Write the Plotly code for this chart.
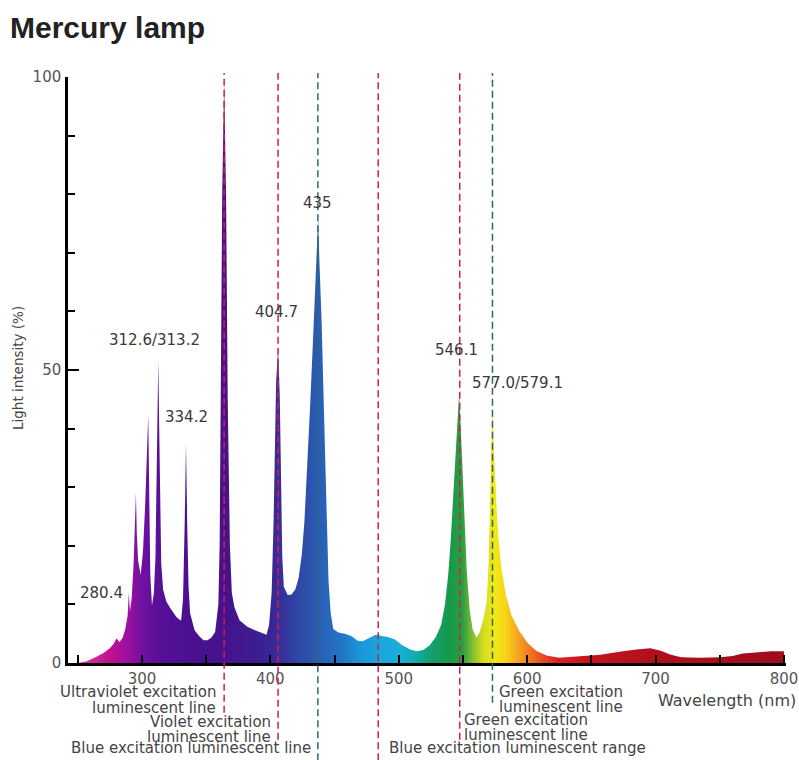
import plotly.graph_objects as go

# ---------------- data ----------------
wavelength_nm = [
    250, 257, 263, 270, 275, 278, 280.2, 282.5, 285, 287, 288.8, 289.8, 290.6, 292,
    293.5, 294.6, 295.3, 296, 297, 299, 300.8, 302.5, 304, 304.9, 305.6, 306.5, 307.8,
    309.3, 310.5, 311.6, 312.2, 312.7, 313.3, 314, 315, 316.5, 319, 322, 327, 330.5,
    332, 333.3, 334.3, 335.2, 336.3, 337.5, 341, 345, 348, 351, 354, 357, 359.5, 360.5,
    361.2, 362.5, 364, 365.5, 366.8, 368.5, 370, 372, 376, 382, 388,
    393, 397, 399, 401, 402.5, 403.5, 404.5, 406, 407.3, 408.3, 409.3, 410.5, 413.5, 416.5,
    419.5, 422, 424.5, 426.5, 429, 431, 433, 435, 436.3, 437.2, 438.3, 440, 441.5,
    442.7, 444, 445.3, 447, 449, 453, 458, 463, 468, 472, 477, 482, 487, 492, 497,
    503, 509, 514, 519, 524, 529, 533, 536, 538.5, 540.5, 542.5, 544, 545.6, 547,
    548.3, 549.8, 551.2, 553, 555.3, 557.5, 560.5, 563, 566, 568.5, 570, 571.3, 572.3,
    573, 573.8, 575, 576.3, 577.8, 580, 583.5, 588, 594, 600, 607, 615, 625, 640, 657,
    672, 685, 696, 704, 712, 720, 735, 750, 760, 768, 778, 790, 800,
]
intensity_pct = [
    0, 0.3, 0.9, 1.7, 2.5, 3.3, 4.2, 3.6, 4.3, 5.8, 8, 12, 8.8, 11,
    17, 24, 29, 22, 17.5, 15, 19, 27, 36, 42.3, 30, 15, 9.8,
    12, 18, 32, 43, 51.5, 42, 30, 17, 12.5, 10.5, 9.4, 7.8, 7.2,
    11, 24, 37.4, 24, 13, 8.5, 5.6, 4.5, 3.9, 3.9, 4.3, 5.3, 10, 20,
    45, 80, 99, 80, 45, 20, 12, 9.5, 7.3, 6.2, 5.6,
    5.1, 4.8, 6.5, 12, 24, 38, 48, 53.6, 46, 32, 18, 13, 11.6, 11.7,
    12.6, 14.5, 18.5, 24, 34, 44, 54, 65, 72, 75.8, 68, 57.8, 45,
    35, 23, 14, 8.5, 5.8, 5.2, 5.0, 4.6, 3.8, 3.7, 4.2, 4.8, 4.6, 4.4, 4.0,
    3.0, 2.3, 2.0, 2.2, 3.0, 4.5, 6.5, 10, 15, 21, 29, 36, 42, 46,
    40, 32.6, 24, 15.6, 9, 5.8, 4.3, 5.2, 7.5, 10.5, 17, 27, 37,
    44, 38, 32, 26, 21, 16, 11.5, 8, 5.4, 3.5, 2.1, 1.3, 0.9, 1.1, 1.4,
    1.9, 2.3, 2.5, 2.1, 1.4, 1.0, 0.9, 1.0, 1.2, 1.6, 1.8, 2.0, 2.0,
]

peak_text = ["280.4", "312.6/313.2", "334.2", "365/366", "404.7", "435", "546.1", "577.0/579.1"]
peak_x = [268.8, 310.1, 334.3, 363.9, 405.1, 437.1, 545.3, 592.8]
peak_y = [11.9, 55.1, 42.0, 100.9, 59.9, 78.5, 53.4, 47.8]

marker_nm = [364, 406, 437, 484, 547.5, 573]
marker_color = ["#cf1f4c", "#cf1f4c", "#2b6b70", "#cf1f4c", "#cf1f4c", "#2f6a4e"]
marker_bottom = [-0.085, -0.131, -0.166, -0.166, -0.131, -0.068]

x_tickvals = [300, 400, 500, 600, 700, 800]
y_tickvals = [0, 50, 100]

# spectrum colours (wavelength -> colour)
spec_nm = [250, 275, 290, 300, 315, 340, 365, 390, 405, 420, 437, 455, 470, 485, 500,
           512, 525, 540, 550, 558, 566, 575, 583, 592, 602, 612, 625, 650, 700, 800]
spec_col = ["#d8409f", "#c0108f", "#9a10a0", "#7010a0", "#560f98", "#4a1090", "#46128c",
            "#3c1e92", "#382a98", "#2f45a4", "#2a5cb2", "#2276c4", "#1c95d8", "#18a6e0",
            "#1aaed8", "#12acb0", "#14a070", "#159a48", "#2aa040", "#8ac030", "#d4dc20",
            "#f2e818", "#f8d418", "#f6a820", "#f07a22", "#e84a22", "#d82020", "#c4141e",
            "#b0101c", "#a00c1c"]

# ---------------- figure ----------------
g0, g1 = spec_nm[0], spec_nm[-1]
colorscale = [[(w - g0) / (g1 - g0), c] for w, c in zip(spec_nm, spec_col)]

fig = go.Figure()
fig.add_trace(go.Scatter(
    x=wavelength_nm, y=intensity_pct, mode="lines",
    line=dict(width=0, color="rgba(0,0,0,0)"),
    fill="tozeroy",
    fillgradient=dict(type="horizontal", colorscale=colorscale, start=g0, stop=g1),
    hoverinfo="skip", showlegend=False,
))

FONT = "DejaVu Sans"
TXT = "#444444"

shapes = []
for xv, col, yb in zip(marker_nm, marker_color, marker_bottom):
    shapes.append(dict(type="line", xref="x", yref="paper", x0=xv, x1=xv, y0=yb, y1=1.007,
                       line=dict(color=col, width=1.5, dash="7px,4px"), layer="above"))

ann = []
for t, xv, yv in zip(peak_text, peak_x, peak_y):
    ann.append(dict(text=t, x=xv, y=yv, xref="x", yref="y", showarrow=False,
                    xanchor="center", yanchor="middle", font=dict(family=FONT, size=15, color="#3a3a3a")))

def py(px):
    return (663 - px) / 586.0

bottom = [
    ("Ultraviolet excitation", 364, "right", -6, 691.7),
    ("luminescent line", 364, "right", -6, 708),
    ("Violet excitation", 406, "right", -5, 722),
    ("luminescent line", 406, "right", -5, 737),
    ("Blue excitation luminescent line", 437, "right", -5, 748),
    ("Green excitation", 573, "left", 5, 692),
    ("luminescent line", 573, "left", 5, 707),
    ("Green excitation", 547.5, "left", 2, 720),
    ("luminescent line", 547.5, "left", 2, 735),
    ("Blue excitation luminescent range", 484, "left", 9, 748),
]
for t, xv, anc, sh, ypx in bottom:
    ann.append(dict(text=t, x=xv, y=py(ypx), xref="x", yref="paper", showarrow=False,
                    xanchor=anc, yanchor="middle", xshift=sh,
                    font=dict(family=FONT, size=15, color=TXT)))

ann.append(dict(text="Wavelength (nm)", x=(656 - 68) / 718.0, y=py(700), xref="paper", yref="paper",
                showarrow=False, xanchor="left", yanchor="middle",
                font=dict(family=FONT, size=16, color=TXT)))
ann.append(dict(text="Light intensity (%)", x=(18 - 68) / 718.0, y=py(368), xref="paper", yref="paper",
                showarrow=False, xanchor="center", yanchor="middle", textangle=-90,
                font=dict(family=FONT, size=13.5, color=TXT)))

fig.update_layout(
    width=799, height=760,
    margin=dict(l=68, r=13, t=77, b=97, autoexpand=False),
    paper_bgcolor="white", plot_bgcolor="white",
    title=dict(text="Mercury lamp", x=10 / 799, xanchor="left", xref="container",
               y=1 - 27 / 760, yanchor="middle", yref="container",
               font=dict(family="Liberation Sans", size=30, color="#222222", weight="bold")),
    shapes=shapes, annotations=ann,
    xaxis=dict(range=[242.4, 801.6], showgrid=False, zeroline=False, automargin=False,
               showline=True, linecolor="black", linewidth=2.5,
               tickmode="array", tickvals=x_tickvals, ticktext=[str(v) for v in x_tickvals],
               ticks="inside", ticklen=8, tickwidth=2, tickcolor="black",
               minor=dict(dtick=50, tick0=0, ticks="inside", ticklen=8, tickwidth=2, tickcolor="black",
                          showgrid=False),
               tickfont=dict(family=FONT, size=15, color="#555555"), ticklabelstandoff=0),
    yaxis=dict(range=[0, 100], showgrid=False, zeroline=False, automargin=False,
               showline=True, linecolor="black", linewidth=2.5,
               tickmode="array", tickvals=y_tickvals,
               ticks="inside", ticklen=11, tickwidth=2, tickcolor="black",
               minor=dict(dtick=10, tick0=0, ticks="inside", ticklen=7, tickwidth=2, tickcolor="black",
                          showgrid=False),
               tickfont=dict(family=FONT, size=15, color="#555555"), ticklabelstandoff=1),
)

fig.write_html("out.html", config={"displayModeBar": False},
               post_script="document.body.style.margin='0px';")
